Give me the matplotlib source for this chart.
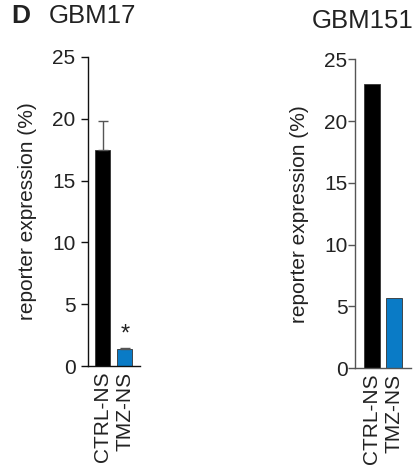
import matplotlib
matplotlib.use("Agg")
import matplotlib.pyplot as plt

plt.rcParams['font.family'] = ['Liberation Sans', 'DejaVu Sans']

groups = ["CTRL-NS", "TMZ-NS"]
gbm17_vals = [17.5, 1.35]
gbm17_err = [2.35, 0.08]
gbm151_vals = [23.0, 5.65]
colors = ["#000000", "#0a7bc6"]
yticks = [0, 5, 10, 15, 20, 25]

fs = 15

fig = plt.figure(figsize=(4.15, 4.69), dpi=100)

ax1 = fig.add_axes([0.212, 0.2196, 0.125, 0.659])
ax2 = fig.add_axes([0.856, 0.2147, 0.134, 0.659])

def style(ax, spine_col, pad):
    for s in ["top", "right"]:
        ax.spines[s].set_visible(False)
    for s in ["left", "bottom"]:
        ax.spines[s].set_color(spine_col)
        ax.spines[s].set_linewidth(1.0)
    ax.set_ylim(0, 25)
    ax.set_yticks(yticks)
    ax.tick_params(axis="y", length=5, width=1, color=spine_col, pad=pad,
                   labelsize=fs, labelcolor="#222222")
    ax.tick_params(axis="x", length=0, pad=4, labelsize=fs,
                   labelcolor="#222222")
    ax.set_xticks([0, 1])
    ax.set_xticklabels(groups, rotation=90)
    ax.set_ylabel("reporter expression (%)", fontsize=fs, color="#222222")

# GBM17
x = range(len(groups))
ax1.bar(x, gbm17_vals, width=0.68, color=colors, edgecolor="#333333",
        linewidth=0.6)
ax1.errorbar([0], gbm17_vals[:1], yerr=[[0], gbm17_err[:1]], fmt="none",
             ecolor="#555555", elinewidth=1, capsize=3.5, capthick=1)
ax1.errorbar([1], gbm17_vals[1:], yerr=[[0], gbm17_err[1:]], fmt="none",
             ecolor="#555555", elinewidth=1, capsize=3.5, capthick=1)
ax1.text(1, gbm17_vals[1] + 0.3, "*", ha="center", va="bottom",
         fontsize=17, color="#222222")
ax1.set_xlim(-0.68, 1.68)
style(ax1, "#111111", 4)
ax1.yaxis.labelpad = 11

# GBM151
ax2.bar(x, gbm151_vals, width=0.7, color=colors, edgecolor="#333333",
        linewidth=0.6)
ax2.set_xlim(-0.75, 1.75)
style(ax2, "#555555", 0.5)
ax2.yaxis.labelpad = 11

fig.text(0.028, 0.966, "D", fontsize=19, fontweight="bold", va="center",
         color="#222222")
fig.text(0.118, 0.966, "GBM17", fontsize=18.5, va="center", color="#222222")
fig.text(0.752, 0.956, "GBM151", fontsize=18.5, va="center", color="#222222")

fig.savefig("out.png", dpi=100)
